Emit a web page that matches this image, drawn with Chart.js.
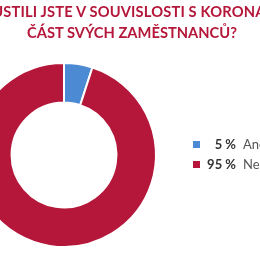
<!DOCTYPE html>
<html>
<head>
<meta charset="utf-8">
<script src="https://cdn.jsdelivr.net/npm/chart.js@4/dist/chart.umd.min.js"></script>
<style>
  html, body { margin: 0; padding: 0; background: #fff; overflow: hidden; }
  #wrap { position: relative; width: 260px; height: 260px; overflow: hidden; }
  #title {
    position: absolute; top: 1px; left: -68px; width: 400px;
    text-align: center; font-family: Lato, sans-serif; font-weight: bold;
    font-size: 14.7px; line-height: 21px; color: #b5173a; white-space: nowrap;
  }
  #title span { letter-spacing: 0.15px; }
  #box { position: absolute; left: -68px; top: 0; width: 400px; height: 260px; }
</style>
</head>
<body>
<div id="wrap">
  <div id="box"><canvas id="myChart" width="400" height="260"></canvas></div>
  <div id="title"><span>PROPUSTILI JSTE V SOUVISLOSTI S KORONAVIREM</span><br>ČÁST SVÝCH ZAMĚSTNANCŮ?</div>
</div>
<script>
const labels = ['Ano', 'Ne'];
const values = [5, 95];
const colors = ['#4d8ad4', '#b5173a'];

// legend: coloured square, bold right-aligned percent, then label
const sideLegend = {
  id: 'sideLegend',
  afterDraw(chart, args, opts) {
    const ctx = chart.ctx;
    const ds = chart.data.datasets[0];
    ctx.save();
    ctx.textBaseline = 'middle';
    chart.data.labels.forEach((lab, i) => {
      const y = opts.y + i * opts.step;
      ctx.fillStyle = ds.backgroundColor[i];
      ctx.fillRect(opts.x, y - 3.5, 7, 7);
      ctx.font = 'bold 13px Lato';
      ctx.fillStyle = '#333';
      ctx.textAlign = 'right';
      ctx.fillText(ds.data[i] + ' %', opts.x + 43, y);
      ctx.font = '13px Lato';
      ctx.fillStyle = '#555';
      ctx.textAlign = 'left';
      ctx.fillText(lab, opts.x + 50, y);
    });
    ctx.restore();
  }
};

const ctx = document.getElementById('myChart').getContext('2d');
const myChart = new Chart(ctx, {
  type: 'doughnut',
  data: {
    labels: labels,
    datasets: [{
      data: values,
      backgroundColor: colors,
      borderColor: '#fff',
      borderWidth: 2
    }]
  },
  options: {
    responsive: false,
    animation: false,
    cutout: '57%',
    layout: { padding: { left: 39, right: 175, top: 62, bottom: 12 } },
    plugins: {
      legend: { display: false },
      tooltip: { enabled: false },
      sideLegend: { x: 261, y: 144.5, step: 20 }
    }
  },
  plugins: [sideLegend]
});
</script>
</body>
</html>
